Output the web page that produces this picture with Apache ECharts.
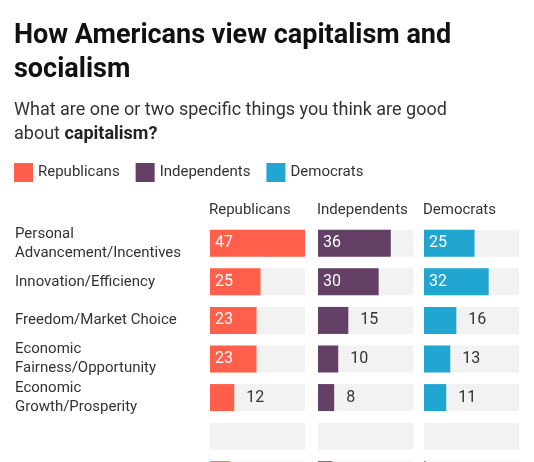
<!DOCTYPE html>
<html><head><meta charset="utf-8">
<script src="https://cdn.jsdelivr.net/npm/echarts@6/dist/echarts.min.js"></script>
<style>html,body{margin:0;padding:0;background:#fff}#c{width:534px;height:462px}</style>
</head><body><div id="c"></div>
<script>
const categories = ['Personal\nAdvancement/Incentives','Innovation/Efficiency','Freedom/Market Choice','Economic\nFairness/Opportunity','Economic\nGrowth/Prosperity','',''];
const groups = ['Republicans','Independents','Democrats'];
const republicans = [47,25,23,23,12,0,10];
const independents = [36,30,15,10,8,0,7];
const democrats = [25,32,16,13,11,0,1];
const colors = ['#ff5f4b','#643f66','#21a6d2'];
const FONT = 'Roboto, "Noto Sans", sans-serif';
const lefts = [210,318,424];
const W = 95, MAX = 47;
const values = [republicans, independents, democrats];
const chart = echarts.init(document.getElementById('c'));
const grids = [], xAxes = [], yAxes = [], series = [];
values.forEach((vals, i) => {
  grids.push({left: lefts[i], top: 224, width: W, height: 270, outerBoundsMode: 'none', containLabel: false});
  xAxes.push({gridIndex: i, type: 'value', min: 0, max: MAX, show: false});
  yAxes.push({gridIndex: i, type: 'category', data: categories, inverse: true,
    axisLine: {show: false}, axisTick: {show: false}, splitLine: {show: false},
    axisLabel: {show: i === 0, align: 'left', margin: 195, fontSize: 15, color: '#333', lineHeight: 19, fontFamily: FONT}});
  series.push({type: 'bar', xAxisIndex: i, yAxisIndex: i, barWidth: 27,
    showBackground: true, backgroundStyle: {color: '#f2f2f2'},
    itemStyle: {color: colors[i]},
    data: vals.map((v, r) => ({value: v, label: {
      show: r !== 5 && r !== 6,
      position: v >= 20 ? 'insideLeft' : 'right',
      distance: v >= 20 ? 5 : 12,
      color: v >= 20 ? '#fff' : '#333', fontSize: 16, fontFamily: FONT}})),
    label: {formatter: '{c}'}
  });
});
chart.setOption({
  animation: false,
  textStyle: {fontFamily: FONT},
  title: [
    {text: 'How Americans view capitalism and\nsocialism', left: 9, top: 14,
     textStyle: {fontSize: 27, fontWeight: 'bold', color: '#111', lineHeight: 34, fontFamily: FONT}},
    {text: '{n|What are one or two specific things you think are good}\n{n|about }{b|capitalism?}', left: 9, top: 93,
     textStyle: {fontWeight: 'normal', rich: {n: {fontSize: 18, fontWeight: 'normal', color: '#333', lineHeight: 24, fontFamily: FONT}, b: {fontSize: 18, fontWeight: 'bold', color: '#222', lineHeight: 24, fontFamily: FONT}}}},
    ...groups.map((g, i) => ({text: g, left: lefts[i] - 6, top: 198, textStyle: {fontSize: 15, fontWeight: 'normal', color: '#333', fontFamily: FONT}}))
  ],
  legend: {left: 9, top: 158, itemWidth: 19, itemHeight: 19, itemGap: 16, icon: 'rect',
    textStyle: {fontSize: 15, color: '#333', fontFamily: FONT}, data: groups},
  grid: grids, xAxis: xAxes, yAxis: yAxes,
  series: series.map((s, i) => ({...s, name: groups[i]}))
});
</script></body></html>
